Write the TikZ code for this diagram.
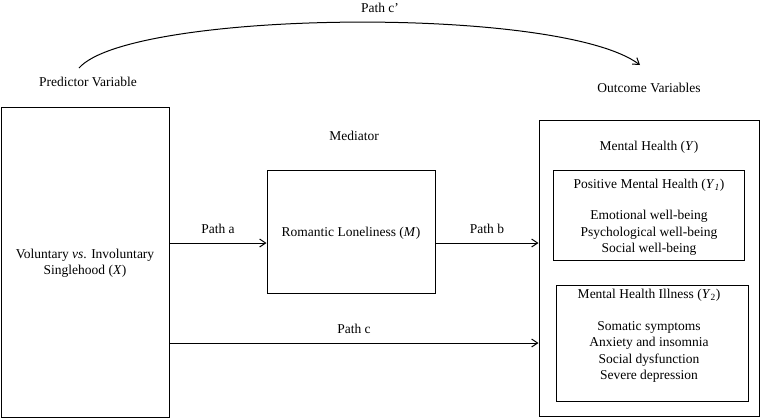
\documentclass[tikz,border=0pt]{standalone}
\usepackage{fontspec}
\setmainfont{Liberation Serif}
\usetikzlibrary{arrows.meta}

\tikzset{
  box/.style={draw,line width=1pt,inner sep=0pt},
  lbl/.style={align=center,inner sep=0pt,font=\fontsize{13.5}{16.5}\selectfont},
  arr/.style={-{Straight Barb[length=6pt,width=8pt]},line width=1pt}
}

\begin{document}
\begin{tikzpicture}[x=1pt,y=-1pt]
  \useasboundingbox (0,0) rectangle (760,418);

  % boxes
  \node[box,minimum width=168pt,minimum height=310pt] (pred) at (85,262) {};
  \node[box,minimum width=168pt,minimum height=123pt] (med) at (351,231.5) {};
  \node[box,minimum width=220pt,minimum height=296pt] (out) at (649,268.5) {};
  \node[box,minimum width=191pt,minimum height=90pt] (pos) at (648.5,215.5) {};
  \node[box,minimum width=192pt,minimum height=116pt] (ill) at (652,343) {};

  % texts
  \node[lbl] (predhead) at (88,82) {Predictor Variable};
  \node[lbl] (medhead) at (354,136) {Mediator};
  \node[lbl] (outhead) at (649,88) {Outcome Variables};
  \node[lbl] (predtext) at (85,263.5) {Voluntary \textit{vs}. Involuntary\\Singlehood (\textit{X})};
  \node[lbl] (medtext) at (351,233) {Romantic Loneliness (\textit{M})};
  \node[lbl] (outtext) at (649,147) {Mental Health (\textit{Y})};
  \node[lbl] (postitle) at (649,185) {Positive Mental Health (\textit{Y}\textsubscript{\textit{1}})};
  \node[lbl] (postext) at (649,233) {Emotional well-being\\Psychological well-being\\Social well-being};
  \node[lbl] (illtitle) at (649,295) {Mental Health Illness (\textit{Y}\textsubscript{2})};
  \node[lbl] (illtext) at (649,352) {Somatic symptoms\\Anxiety and insomnia\\Social dysfunction\\Severe depression};

  % paths
  \draw[arr] (pred.east |- 0,243) -- (med.west |- 0,243) node[lbl,midway,above=9pt] (patha) {Path a};
  \draw[arr] (med.east |- 0,243) -- (out.west |- 0,243) node[lbl,midway,above=9pt] (pathb) {Path b};
  \draw[arr] (pred.east |- 0,343) -- (out.west |- 0,343) node[lbl,midway,above=9pt] (pathc) {Path c};
  \coordinate (cstart) at (79,68);
  \coordinate (cend) at (640,65);
  \draw[arr] (cstart) .. controls (130,10) and (560,5) .. (cend);
  \node[lbl] (pathcc) at (380,8) {Path c’};
\end{tikzpicture}
\end{document}
